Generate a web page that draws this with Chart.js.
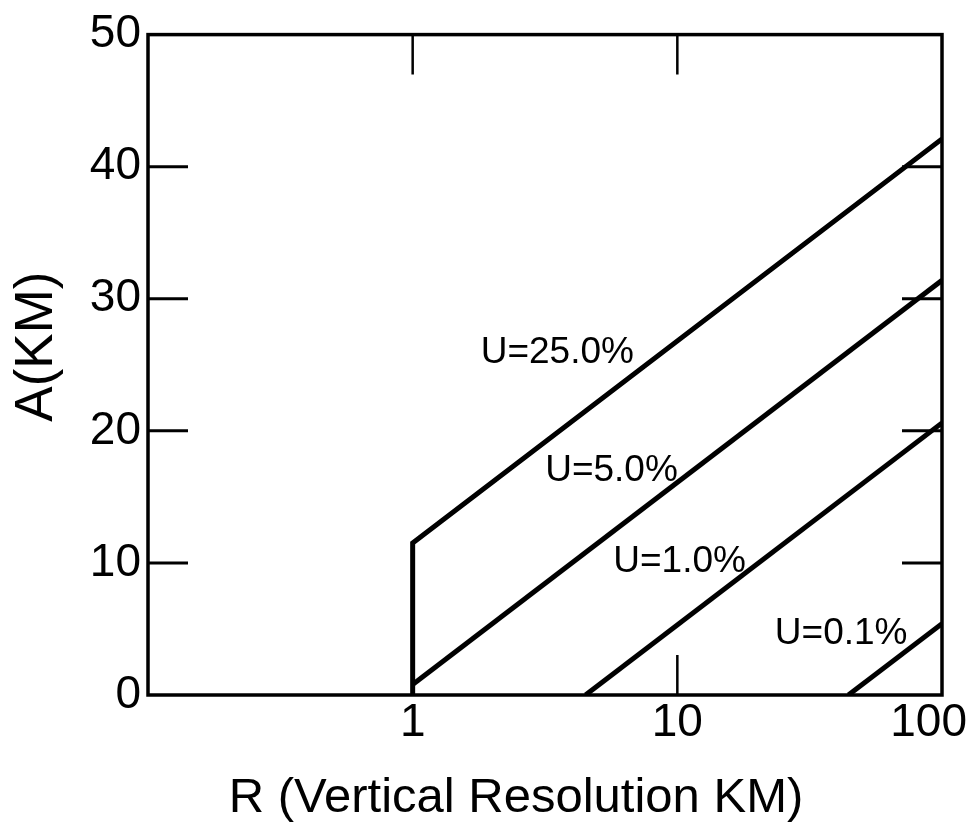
<!DOCTYPE html>
<html lang="en">
<head>
  <meta charset="UTF-8">
  <title>A vs R</title>
  <style>
    body {
      margin: 0;
      padding: 0;
      background-color: #ffffff;
    }
    .chart-container {
      width: 972px;
      height: 828px;
    }
  </style>
</head>
<body>

<div class="chart-container">
  <canvas id="chart"></canvas>
</div>

<script src="https://cdn.jsdelivr.net/npm/chart.js"></script>
<script>
  // R (km) and A (km) for each uncertainty curve
  const r250 = [1, 1, 100];
  const a250 = [0, 11.5, 42.1];
  const r50 = [1, 100];
  const a50 = [0.8, 31.4];
  const r10 = [4.5, 100];
  const a10 = [0, 20.6];
  const r01 = [44.3, 100];
  const a01 = [0, 5.4];

  const curveNames = ['U=25.0%', 'U=5.0%', 'U=1.0%', 'U=0.1%'];
  // where each curve name is written (R, A)
  const nameR = [3.52, 5.64, 10.2, 41.6];
  const nameA = [25.9, 17.0, 10.1, 4.6];

  const xTicks = [1, 10, 100];
  const yTicks = [0, 10, 20, 30, 40, 50];

  const xTitle = 'R (Vertical Resolution KM)';
  const yTitle = 'A(KM)';

  const FONT = "'Liberation Sans', Arial, sans-serif";

  function toPoints(xs, ys) {
    return xs.map((x, i) => ({ x: x, y: ys[i] }));
  }

  const curves = [[r250, a250], [r50, a50], [r10, a10], [r01, a01]];

  // frame, inward tick marks, x labels, titles and curve names
  const framePlugin = {
    id: 'frame',
    afterDatasetsDraw(chart) {
      const { ctx, chartArea, scales, width } = chart;
      const { left, right, top, bottom } = chartArea;
      const len = 40;
      ctx.save();
      ctx.strokeStyle = '#000';
      ctx.lineCap = 'butt';

      ctx.lineWidth = 3;
      yTicks.slice(1, -1).forEach(v => {
        const py = scales.y.getPixelForValue(v);
        ctx.beginPath();
        ctx.moveTo(left, py);
        ctx.lineTo(left + len, py);
        ctx.moveTo(right, py);
        ctx.lineTo(right - len, py);
        ctx.stroke();
      });
      ctx.lineWidth = 2.5;
      xTicks.slice(0, -1).forEach(v => {
        const px = scales.x.getPixelForValue(v);
        ctx.beginPath();
        ctx.moveTo(px, top);
        ctx.lineTo(px, top + len);
        ctx.moveTo(px, bottom);
        ctx.lineTo(px, bottom - len);
        ctx.stroke();
      });

      ctx.lineWidth = 3.5;
      ctx.strokeRect(left, top, right - left, bottom - top);

      ctx.fillStyle = '#000';
      ctx.textAlign = 'center';
      ctx.textBaseline = 'middle';

      // x tick labels, kept inside the canvas
      ctx.font = '46px ' + FONT;
      xTicks.forEach(v => {
        const label = String(v);
        const half = ctx.measureText(label).width / 2;
        const px = Math.min(scales.x.getPixelForValue(v), width - half - 5);
        ctx.fillText(label, px, bottom + 28);
      });

      ctx.font = '49px ' + FONT;
      ctx.fillText(xTitle, left + 368, bottom + 103);

      ctx.save();
      ctx.translate(37, top + 312);
      ctx.rotate(-Math.PI / 2);
      ctx.font = '53px ' + FONT;
      ctx.fillText(yTitle, 0, 0);
      ctx.restore();

      ctx.font = '37px ' + FONT;
      curveNames.forEach((name, i) => {
        ctx.fillText(name, scales.x.getPixelForValue(nameR[i]), scales.y.getPixelForValue(nameA[i]));
      });
      ctx.restore();
    }
  };

  const ctx = document.getElementById('chart').getContext('2d');
  const chart = new Chart(ctx, {
    type: 'line',
    data: {
      datasets: curves.map((c, i) => ({
        label: curveNames[i],
        data: toPoints(c[0], c[1]),
        borderColor: '#000',
        borderWidth: 5,
        pointRadius: 0,
        fill: false,
        tension: 0
      }))
    },
    options: {
      responsive: true,
      maintainAspectRatio: false,
      animation: false,
      layout: {
        padding: { top: 33, right: 30, left: 0, bottom: 0 }
      },
      plugins: {
        legend: { display: false },
        tooltip: { enabled: false }
      },
      scales: {
        x: {
          type: 'logarithmic',
          min: 0.1,
          max: 100,
          afterBuildTicks: scale => {
            scale.ticks = xTicks.map(v => ({ value: v }));
          },
          afterFit: scale => {
            scale.height = 133;
            scale.paddingRight = 0;
            scale.paddingLeft = 0;
          },
          grid: { display: false, drawTicks: false },
          border: { display: false },
          ticks: { display: false }
        },
        y: {
          min: 0,
          max: 50,
          afterBuildTicks: scale => {
            scale.ticks = yTicks.map(v => ({ value: v }));
          },
          afterFit: scale => {
            scale.width = 148;
          },
          grid: { display: false, drawTicks: false },
          border: { display: false },
          ticks: {
            color: '#000',
            font: { family: FONT, size: 46 },
            padding: 7
          }
        }
      }
    },
    plugins: [framePlugin]
  });
</script>
</body>
</html>
